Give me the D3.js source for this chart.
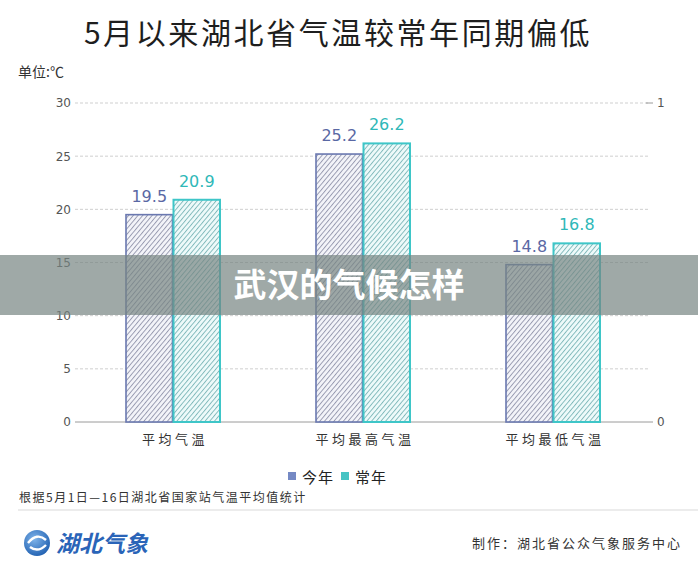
<!DOCTYPE html>
<html><head><meta charset="utf-8">
<script src="https://cdn.jsdelivr.net/npm/d3@7"></script>
<style>body{margin:0;background:#fff;}svg{display:block;font-family:"Noto Sans CJK SC","Noto Sans",sans-serif;}</style>
</head><body><svg id="c" width="698" height="572"></svg>
<script>
const categories = ["平均气温", "平均最高气温", "平均最低气温"];
const seriesNames = ["今年", "常年"];
const thisYear = [19.5, 25.2, 14.8];
const normalYear = [20.9, 26.2, 16.8];
const leftTicks = [0, 5, 10, 15, 20, 25, 30];
const rightTicks = [0, 1];
const title = "5月以来湖北省气温较常年同期偏低";
const unit = "单位:℃";
const note = "根据5月1日—16日湖北省国家站气温平均值统计";
const credit = "制作：湖北省公众气象服务中心";
const brand = "湖北气象";
const banner = "武汉的气候怎样";

const svg = d3.select("#c");
const W = 698, H = 572;
const lineCol = ["#6a78b0", "#3ec6c8"];
const labelCol = ["#5a68a4", "#2fb8b8"];
const hatchCol = ["#858aa2", "#6cadaf"];
const fillCol = ["#f3f4f9", "#eefafa"];

const defs = svg.append("defs");
[0, 1].forEach(i => {
  const p = defs.append("pattern").attr("id", "h" + i).attr("patternUnits", "userSpaceOnUse")
    .attr("width", 3.6).attr("height", 3.6).attr("patternTransform", "rotate(40)");
  p.append("rect").attr("width", 3.6).attr("height", 3.6).attr("fill", fillCol[i]);
  p.append("line").attr("x1", 0.5).attr("y1", 0).attr("x2", 0.5).attr("y2", 3.6)
    .attr("stroke", hatchCol[i]).attr("stroke-width", 0.8);
});
const lg = defs.append("radialGradient").attr("id", "lg").attr("cx", "40%").attr("cy", "35%").attr("r", "70%");
lg.append("stop").attr("offset", "0%").attr("stop-color", "#7fb4ea");
lg.append("stop").attr("offset", "100%").attr("stop-color", "#1f5fb0");

svg.append("rect").attr("width", W).attr("height", H).attr("fill", "#fff");

// title
svg.append("text").attr("x", 338).attr("y", 44).attr("text-anchor", "middle")
  .attr("font-size", 30).attr("font-weight", 400).attr("letter-spacing", 2.6).attr("fill", "#1e1e1e").text(title);
svg.append("text").attr("x", 18).attr("y", 77).attr("font-size", 14).attr("fill", "#333").text(unit);

const x0 = 78, x1 = 648, yTop = 103, yBot = 422;
const x = d3.scaleBand().domain(categories).range([x0, x1]);
const xs = d3.scaleBand().domain(seriesNames).range([0, 95]);
const y = d3.scaleLinear().domain([0, 30]).range([yBot, yTop]);
const yr = d3.scaleLinear().domain([0, 1]).range([yBot, yTop]);

// grid
const g = svg.append("g");
g.selectAll("line.grid").data(leftTicks.filter(d => d > 0)).join("line")
  .attr("x1", 75).attr("x2", 648).attr("y1", d => y(d)).attr("y2", d => y(d))
  .attr("stroke", "#cfcfcf").attr("stroke-width", 1).attr("stroke-dasharray", "3,2");
g.append("line").attr("x1", 75).attr("x2", 653).attr("y1", y(0)).attr("y2", y(0))
  .attr("stroke", "#9a9a9a").attr("stroke-width", 1);
g.append("line").attr("x1", 646).attr("x2", 653).attr("y1", yr(1)).attr("y2", yr(1))
  .attr("stroke", "#9a9a9a").attr("stroke-width", 1);

// left axis labels
const la = svg.append("g").attr("transform", `translate(71,0)`)
  .call(d3.axisLeft(y).tickValues(leftTicks).tickSize(0).tickPadding(0));
la.select(".domain").remove();
la.selectAll("text").attr("font-size", 12).attr("fill", "#555").attr("font-family", "DejaVu Sans, sans-serif");
// right axis labels
const ra = svg.append("g").attr("transform", `translate(657,0)`)
  .call(d3.axisRight(yr).tickValues(rightTicks).tickFormat(d3.format("d")).tickSize(0).tickPadding(0));
ra.select(".domain").remove();
ra.selectAll("text").attr("font-size", 12).attr("fill", "#555").attr("font-family", "DejaVu Sans, sans-serif");

// bars
const data = categories.map((c, i) => ({ c, v: [thisYear[i], normalYear[i]] }));
const grp = svg.selectAll("g.cat").data(data).join("g")
  .attr("transform", d => `translate(${x(d.c) + x.bandwidth() / 2 - 47.5},0)`);
[0, 1].forEach(s => {
  grp.append("rect").attr("x", xs(seriesNames[s]) + 0.5).attr("width", xs.bandwidth() - 1)
    .attr("y", d => y(d.v[s])).attr("height", d => y(0) - y(d.v[s]))
    .attr("fill", `url(#h${s})`).attr("stroke", lineCol[s]).attr("stroke-width", s ? 2 : 1.6);
  grp.append("text").attr("x", xs(seriesNames[s]) + xs.bandwidth() / 2)
    .attr("y", d => y(d.v[s]) - 13).attr("text-anchor", "middle")
    .attr("font-size", 16).attr("fill", labelCol[s]).attr("font-family", "DejaVu Sans, sans-serif")
    .text(d => d.v[s].toFixed(1));
});

// category labels
svg.selectAll("text.cat").data(categories).join("text")
  .attr("x", d => x(d) + x.bandwidth() / 2 + 2).attr("y", 444).attr("text-anchor", "middle")
  .attr("font-size", 13).attr("letter-spacing", 3.5).attr("fill", "#333").text(d => d);

// legend
const lgx = [288, 341];
seriesNames.forEach((n, i) => {
  svg.append("rect").attr("x", lgx[i]).attr("y", 472).attr("width", 8).attr("height", 8)
    .attr("fill", i ? "#46c4c4" : "#7589c4");
  svg.append("text").attr("x", lgx[i] + 14).attr("y", 483).attr("font-size", 15).attr("letter-spacing", 1)
    .attr("fill", "#222").text(n);
});

// note
svg.append("text").attr("x", 19).attr("y", 502).attr("font-size", 12).attr("letter-spacing", 1.5)
  .attr("fill", "#333").text(note);
svg.append("line").attr("x1", 18).attr("x2", 698).attr("y1", 510).attr("y2", 510)
  .attr("stroke", "#e6e6e6").attr("stroke-width", 1.5);

// footer logo
svg.append("circle").attr("cx", 37).attr("cy", 543).attr("r", 13).attr("fill", "url(#lg)");
svg.append("path").attr("d", "M28,543 Q37,532 46,540 M30,547 Q38,553 46,545")
  .attr("stroke", "#fff").attr("stroke-width", 2.4).attr("fill", "none");
svg.append("text").attr("x", 56).attr("y", 552).attr("font-size", 23).attr("font-weight", 700)
  .attr("font-style", "italic").attr("fill", "#2a64b8").text(brand);
svg.append("text").attr("x", 682).attr("y", 548).attr("text-anchor", "end").attr("font-size", 13)
  .attr("letter-spacing", 2).attr("fill", "#333").text(credit);

// banner overlay
svg.append("rect").attr("x", 0).attr("y", 255).attr("width", W).attr("height", 60)
  .attr("fill", "rgb(118,132,130)").attr("opacity", 0.7);
svg.append("text").attr("x", 349).attr("y", 297).attr("text-anchor", "middle")
  .attr("font-size", 33).attr("font-weight", 700).attr("fill", "#fff").text(banner);
</script></body></html>
